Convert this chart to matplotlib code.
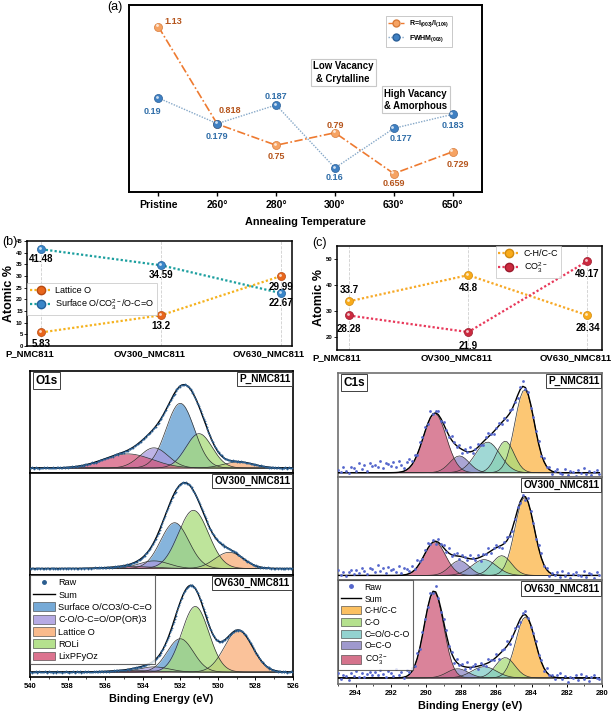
import numpy as np
import matplotlib
matplotlib.use("Agg")
import matplotlib.pyplot as plt
from matplotlib.transforms import ScaledTranslation
from matplotlib.lines import Line2D
from matplotlib.patches import Patch

plt.rcParams['font.family'] = ['Liberation Sans', 'DejaVu Sans']
plt.rcParams['mathtext.default'] = 'regular'

# ==========================================================
# Data
# ==========================================================

# (a) XRD ratio / FWHM vs annealing temperature
temps = ["Pristine", "260°", "280°", "300°", "630°", "650°"]
r_ratio = [1.13, 0.818, 0.75, 0.79, 0.659, 0.729]
fwhm = [0.19, 0.179, 0.187, 0.16, 0.177, 0.183]

# (b) / (c) atomic percentages
samples = ["P_NMC811", "OV300_NMC811", "OV630_NMC811"]
lattice_o = [5.83, 13.2, 29.99]
surface_o = [41.48, 34.59, 22.67]
chc = [33.7, 43.8, 28.34]
co3 = [28.28, 21.9, 49.17]

# XPS fitted components: (centre eV, height, sigma eV) per sample
o1s_names = ["Surface O/CO3/O-C=O", "C-O/O-C=O/OP(OR)3", "Lattice O", "ROLi", "LixPFyOz"]
o1s_fit = {
    "P_NMC811":     [(532.0, 64, 0.75), (533.4, 20, 0.75), (528.9, 6, 0.8), (531.0, 34, 0.7), (534.8, 14, 1.3)],
    "OV300_NMC811": [(532.3, 48, 0.75), (533.4, 8, 0.8), (529.4, 17, 0.75), (531.3, 61, 0.8), (534.5, 2, 1.2)],
    "OV630_NMC811": [(532.0, 32, 0.7), (533.4, 5, 0.8), (528.9, 40, 0.75), (531.2, 63, 0.72), (534.5, 1.5, 1.2)],
}
c1s_names = ["C-H/C-C", "C-O", "C=O/O-C-O", "O=C-O", "CO$_3^{2-}$"]
c1s_fit = {
    "P_NMC811":     [(284.4, 84, 0.55), (285.5, 32, 0.5), (286.5, 31, 0.7), (288.1, 17, 0.55), (289.5, 60, 0.65)],
    "OV300_NMC811": [(284.4, 79, 0.55), (285.7, 20, 0.55), (286.7, 16, 0.7), (288.1, 15, 0.55), (289.5, 34, 0.6)],
    "OV630_NMC811": [(284.35, 60, 0.55), (285.5, 20, 0.55), (286.7, 11, 0.7), (288.2, 9, 0.6), (289.55, 85, 0.55)],
}
# un-fitted high-BE background seen in C1s raw points (centre, height, sigma)
c1s_tail = {"P_NMC811": (292.3, 8, 1.4), "OV300_NMC811": (292.3, 6, 1.4), "OV630_NMC811": (292.3, 4, 1.4)}

# scatter of raw points around the envelope
o1s_resid = [0.4, -0.3, 0.6, 0.1, -0.5, 0.3, 0.7, -0.2, 0.0, 0.5, -0.6, 0.2, 0.4, -0.1, -0.4, 0.6,
             0.1, -0.3, 0.5, 0.2, -0.5, 0.3, 0.0, -0.2, 0.6, -0.4, 0.2, 0.1, -0.6, 0.4]
c1s_resid = [2, -1, 4, 0, -3, 3, 1, -2, 5, -1, 2, -4, 3, 0, 1, -2, 4, -3, 2, 1,
             -1, 3, -2, 5, 0, -3, 2, 4, -1, 1, -4, 3, 0, 2, -2, 5, -1, 1, 3, -3,
             2, 0, -2, 4, 1, -1, 3, -4, 2, 0, 5, -2, 1, 3, -1, -3, 2, 4, 0, -2,
             1, 3, -1, 2, -3, 4, 0, 1, -2, 3, 5, -1, 2, -4, 1, 0, 3, -2, 4, -1,
             2, -3, 1, 3, 0, -1, 4, -2, 2, 1, -3, 3, 0, 5, -1, 2, -2, 1, 3, -1]

# ==========================================================
# Styles
# ==========================================================

o1s_colors = ["#5E9BD1", "#A99BE0", "#F9AE78", "#A8DC7A", "#D65A7C"]
c1s_colors = ["#FBB545", "#A8DC7A", "#80CCC8", "#8E87C6", "#CE5A78"]

fig = plt.figure(figsize=(6.13, 7.14), dpi=100)


def sphere(ax, x, y, color, edge, ms=5.8, z=4):
    ax.plot(x, y, "o", ms=ms, color=color, mec=edge, mew=0.5, ls="none", zorder=z)
    tr = ax.transData + ScaledTranslation(-1.0 / 72, 1.0 / 72, fig.dpi_scale_trans)
    ax.plot(x, y, "o", ms=ms * 0.35, color="white", alpha=0.75, mew=0,
            ls="none", transform=tr, zorder=z + 0.1)


def gauss(x, c, h, s):
    return h * np.exp(-0.5 * ((x - c) / s) ** 2)


# ==========================================================
# (a)
# ==========================================================

xa = np.arange(len(temps))
axa = fig.add_axes([0.2104, 0.7311, 0.576, 0.262])
axa2 = axa.twinx()

axa.plot(xa, r_ratio, color="#EE7A30", lw=1.2, ls=(0, (5, 1.5, 1, 1.5)), zorder=2)
sphere(axa, xa, r_ratio, "#F6A363", "#D77B3A")
axa2.plot(xa, fwhm, color="#86A8C8", lw=1.0, ls=(0, (1, 1)), zorder=2)
sphere(axa2, xa, fwhm, "#3F80C2", "#2A5F98")

axa.set_xlim(-0.5, 5.5)
axa.set_ylim(0.60, 1.20)
axa2.set_ylim(0.1497, 0.2299)
for a in (axa, axa2):
    a.set_yticks([])
    for sp in a.spines.values():
        sp.set_linewidth(1.2)
axa.set_xticks(xa)
axa.set_xticklabels(temps, fontsize=7.5, fontweight="bold")
axa.tick_params(axis="x", length=3, width=1, pad=3)
axa.set_xlabel("Annealing Temperature", fontsize=7.8, fontweight="bold", labelpad=5)

r_off = [(11, 4), (9, 10), (0, -8), (0, 5), (0, -7), (4, -9)]
f_off = [(-4, -10), (0, -9), (0, 6), (0, -7), (5, -7), (0, -8)]
for i in range(len(temps)):
    axa.annotate(f"{r_ratio[i]:g}", (xa[i], r_ratio[i]), textcoords="offset points",
                 xytext=r_off[i], ha="center", va="center", fontsize=6.5,
                 fontweight="bold", color="#B5541B")
    axa2.annotate(f"{fwhm[i]:g}", (xa[i], fwhm[i]), textcoords="offset points",
                  xytext=f_off[i], ha="center", va="center", fontsize=6.5,
                  fontweight="bold", color="#2F6DA8")

box = dict(boxstyle="square,pad=0.25", fc="white", ec="#C8C8C8", lw=0.8)
axa.text(3.14, 0.983, "Low Vacancy\n& Crytalline", ha="center", va="center",
         fontsize=6.9, fontweight="bold", bbox=box, linespacing=1.3, zorder=6)
axa.text(4.37, 0.896, "High Vacancy\n& Amorphous", ha="center", va="center",
         fontsize=6.9, fontweight="bold", bbox=box, linespacing=1.3, zorder=6)

hs = [Line2D([], [], color="#EE7A30", lw=1.0, ls=(0, (5, 1.5, 1, 1.5)), marker="o",
             ms=5, mfc="#F6A363", mec="#D77B3A"),
      Line2D([], [], color="#86A8C8", lw=1.0, ls=(0, (1, 1)), marker="o",
             ms=5, mfc="#3F80C2", mec="#2A5F98")]
leg = axa2.legend(hs, ["R=I$_{(003)}$/I$_{(104)}$", "FWHM$_{(003)}$"],
                  loc="upper right", bbox_to_anchor=(0.925, 0.96),
                  prop={"size": 5, "weight": "bold"}, frameon=True, fancybox=False,
                  edgecolor="#B0B0B0", handlelength=2.2, borderpad=0.4, labelspacing=0.5)
leg.get_frame().set_linewidth(0.6)
fig.text(0.188, 0.99, "(a)", fontsize=9, ha="center", va="center")

# ==========================================================
# (b) and (c)
# ==========================================================

xs = np.arange(len(samples))


def atomic_panel(rect, xlim, ylim, yticks, series, legloc, anchor):
    ax = fig.add_axes(rect)
    handles = []
    for vals, mcol, ecol, lcol, lab, offs in series:
        ax.plot(xs, vals, color=lcol, lw=1.6, ls=(0, (1, 1)), zorder=2)
        sphere(ax, xs, vals, mcol, ecol)
        for i, v in enumerate(vals):
            ax.annotate(f"{v:g}", (xs[i], v), textcoords="offset points",
                        xytext=(0, offs[i]), ha="center", va="center",
                        fontsize=7, fontweight="bold", zorder=9)
        handles.append(Line2D([], [], color=lcol, lw=1.6, ls=(0, (1, 1)), marker="o",
                              ms=6, mfc=mcol, mec=ecol, label=lab))
    ax.set_xlim(*xlim)
    ax.set_ylim(*ylim)
    ax.set_xticks(xs)
    ax.set_xticklabels([])
    # sample names sit a little left of their tick in the original
    for i, s in enumerate(samples):
        ax.text(xs[i] - 0.1, -0.03, s, transform=ax.get_xaxis_transform(),
                ha="center", va="top", fontsize=6.8, fontweight="bold")
    ax.set_yticks(yticks)
    ax.set_yticklabels([str(t) for t in yticks], fontsize=4.3, fontweight="bold")
    ax.tick_params(axis="x", length=0)
    ax.tick_params(axis="y", length=2, width=0.6, pad=1)
    ax.grid(True, axis="x", color="#CFCFCF", ls="--", lw=0.6)
    ax.set_ylabel("Atomic %", fontsize=9, fontweight="bold")
    ax.yaxis.set_label_coords(-0.045, 0.5)
    for sp in ax.spines.values():
        sp.set_linewidth(1.1)
    lg = ax.legend(handles=handles, loc=legloc, bbox_to_anchor=anchor, fontsize=6.5,
                   frameon=True, fancybox=False, edgecolor="#C0C0C0",
                   handlelength=2.4, borderpad=0.3, labelspacing=0.35, borderaxespad=0,
                   handletextpad=0.4)
    lg.get_frame().set_linewidth(0.6)
    return ax


axb = atomic_panel([0.044, 0.5154, 0.432, 0.147], (-0.12, 2.09), (0, 45), list(range(0, 50, 5)),
                   [(lattice_o, "#E8661C", "#B84A10", "#F5B21E", "Lattice O", [-8, -8, -8]),
                    (surface_o, "#3A86C8", "#23609A", "#1A9E9E",
                     "Surface O/CO$_3^{2-}$/O-C=O", [-7, -7, -7])],
                   "upper left", (0.0, 0.60))
axc = atomic_panel([0.5497, 0.5098, 0.432, 0.1457], (-0.1, 2.12), (15, 55), [20, 30, 40, 50],
                   [(chc, "#F9AB1A", "#D08A10", "#F7A825", "C-H/C-C", [8, -9, -9]),
                    (co3, "#CC2A3F", "#9A1A2C", "#E8385A", "CO$_3^{2-}$", [-10, -10, -9])],
                   "upper right", (0.845, 1.0))
fig.text(0.016, 0.661, "(b)", fontsize=9, ha="center", va="center")
fig.text(0.522, 0.66, "(c)", fontsize=9, ha="center", va="center")

# ==========================================================
# XPS stacks
# ==========================================================


def xps_stack(left, width, top, ph, xlim, xgrid, fits, names, colors, ylims,
              resid, tag, raw_col, raw_ms, tails=None, spine_col="k", legfs=6.6):
    axes = []
    for k, (name, comps) in enumerate(fits.items()):
        ax = fig.add_axes([left, top - (k + 1) * ph, width, ph])
        x = xgrid
        total = np.zeros_like(x)
        for (c, h, s), col in zip(comps, colors):
            y = gauss(x, c, h, s)
            total += y
            ax.fill_between(x, 0, y, color=col, alpha=0.75, lw=0, zorder=2)
            ax.plot(x, y, color="#303030", lw=0.5, zorder=3)
        noise = np.roll(np.resize(np.array(resid, float), x.size), k * 7)
        raw = total + noise
        if tails is not None:
            raw = raw + gauss(x, *tails[name])
        ax.plot(x, total, color="k", lw=1.0, zorder=4)
        ax.plot(x, raw, "o", ms=raw_ms, color=raw_col, mew=0, zorder=5)
        ax.set_xlim(*xlim)
        ax.set_ylim(*ylims[k])
        ax.set_yticks([])
        for sp in ax.spines.values():
            sp.set_linewidth(1.2)
            sp.set_color(spine_col)
        ax.text(0.99, 0.97, name, transform=ax.transAxes, ha="right", va="top",
                fontsize=7.3, fontweight="bold", zorder=7,
                bbox=dict(boxstyle="square,pad=0.2", fc="white", ec="#404040", lw=0.7))
        if k == 0:
            ax.text(0.02, 0.965, tag, transform=ax.transAxes, ha="left", va="top",
                    fontsize=8.5, fontweight="bold", zorder=7,
                    bbox=dict(boxstyle="square,pad=0.2", fc="white", ec="#404040", lw=0.7))
        if k < 2:
            ax.set_xticks([])
        axes.append(ax)
    ax = axes[-1]
    lo, hi = sorted(xlim)
    ax.set_xticks(np.arange(int(np.ceil(lo / 2) * 2), hi + 0.1, 2))
    ax.set_xticks(np.arange(int(np.ceil(lo)), hi + 0.1, 1), minor=True)
    ax.tick_params(axis="x", which="major", length=2.5, width=0.7, labelsize=5.5, pad=1.5)
    ax.tick_params(axis="x", which="minor", length=1.5, width=0.5)
    for t in ax.get_xticklabels():
        t.set_fontweight("bold")
    ax.set_xlabel("Binding Energy (eV)", fontsize=7.8, fontweight="bold", labelpad=3)
    hs = [Line2D([], [], ls="none", marker="o", ms=2.5, color=raw_col, label="Raw"),
          Line2D([], [], color="k", lw=1.0, label="Sum")]
    hs += [Patch(fc=c, ec="#404040", lw=0.5, alpha=0.85, label=n) for c, n in zip(colors, names)]
    lg = ax.legend(handles=hs, loc="upper left", bbox_to_anchor=(0.0, 1.0), fontsize=legfs,
                   frameon=True, fancybox=False, edgecolor="#404040", borderaxespad=0,
                   handlelength=2.4, handleheight=1.1, labelspacing=0.3, borderpad=0.3,
                   handletextpad=0.4)
    lg.get_frame().set_linewidth(0.8)
    lg.set_zorder(8)
    return axes


o1s_x = np.arange(540, 526, -0.05)
xps_stack(0.0489, 0.429, 0.4804, 0.143, (540, 526), o1s_x, o1s_fit, o1s_names, o1s_colors,
          [(-5, 96), (-7, 100), (-5, 93)], o1s_resid, "O1s", "#2A5D8F", 1.3, legfs=6.6)

c1s_x = np.arange(295, 280, -0.15)
xps_stack(0.5514, 0.4307, 0.4776, 0.1452, (295, 280), c1s_x, c1s_fit, c1s_names, c1s_colors,
          [(-4, 101), (-5, 100), (-6, 96)], c1s_resid, "C1s", "#5566CC", 2.0,
          tails=c1s_tail, spine_col="#707070", legfs=6.2)

fig.savefig("out.png", dpi=100)
